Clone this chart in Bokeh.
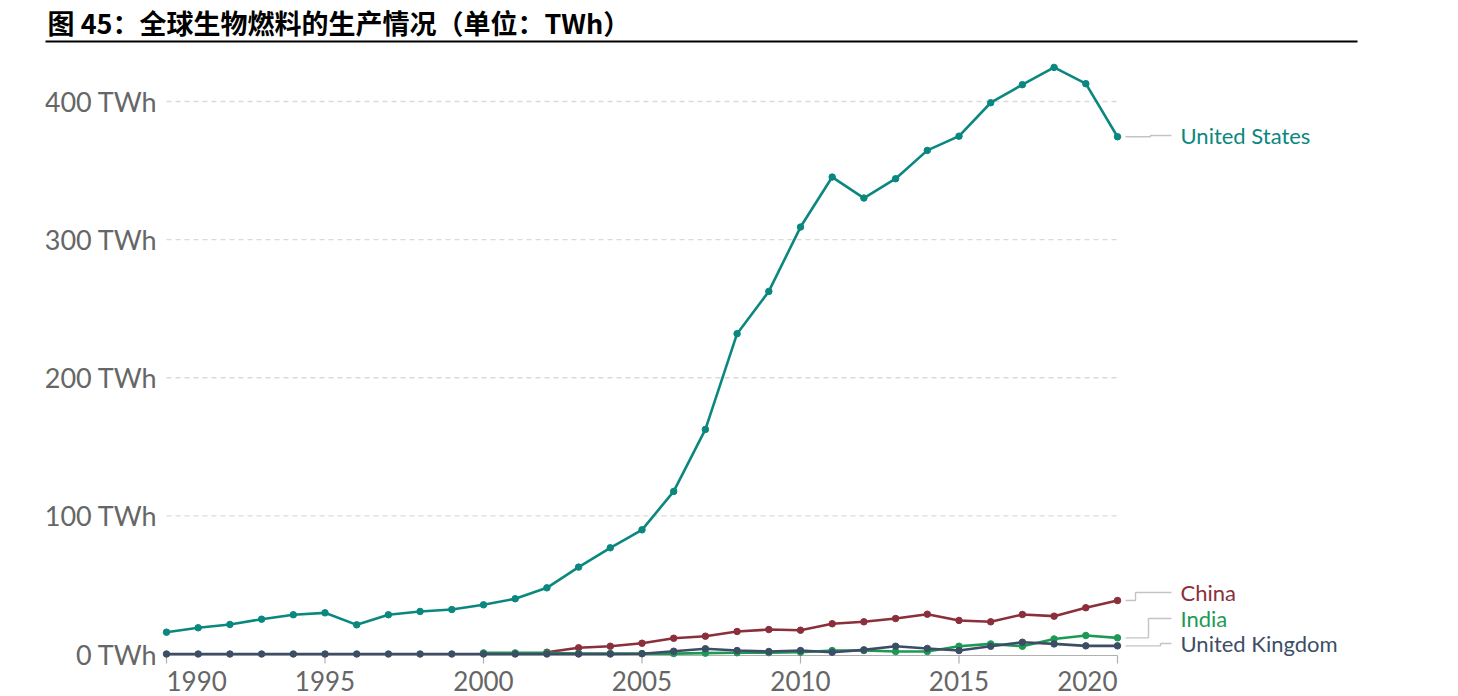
from bokeh.plotting import figure
from bokeh.models import ColumnDataSource, LinearAxis, FixedTicker, Range1d
from bokeh.core.properties import value
from bokeh.embed import file_html
from bokeh.resources import INLINE

# ---------------- data ----------------
title_text = "图 45：全球生物燃料的生产情况（单位：TWh）"

years = [1990, 1991, 1992, 1993, 1994, 1995, 1996, 1997, 1998, 1999,
         2000, 2001, 2002, 2003, 2004, 2005, 2006, 2007, 2008, 2009,
         2010, 2011, 2012, 2013, 2014, 2015, 2016, 2017, 2018, 2019, 2020]
us = [15.8, 19.0, 21.4, 25.2, 28.4, 29.8, 21.1, 28.4, 30.8, 32.2,
      35.6, 40.0, 47.9, 62.9, 76.9, 89.9, 117.7, 162.6, 231.9, 262.5,
      309.1, 345.3, 330.1, 344.1, 364.6, 374.9, 399.1, 412.2, 424.7, 412.9, 374.5]
uk = [0, 0, 0, 0, 0, 0, 0, 0, 0, 0,
      0, 0, 0, 0, 0, 0.2, 2.0, 3.8, 2.5, 1.8,
      2.5, 1.3, 3.0, 5.6, 4.0, 2.5, 5.6, 8.5, 7.3, 5.9, 5.9]
china_years = [2002, 2003, 2004, 2005, 2006, 2007, 2008, 2009, 2010, 2011,
               2012, 2013, 2014, 2015, 2016, 2017, 2018, 2019, 2020]
china = [1.3, 4.5, 5.6, 7.8, 11.4, 12.9, 16.3, 17.7, 17.2, 21.9,
         23.3, 25.7, 28.8, 24.3, 23.3, 28.6, 27.4, 33.5, 38.7]
india_years = [2000, 2001, 2002, 2003, 2004, 2005, 2006, 2007, 2008, 2009,
               2010, 2011, 2012, 2013, 2014, 2015, 2016, 2017, 2018, 2019, 2020]
india = [0.8, 0.8, 0.8, 0.4, 0.4, 0.3, 0.3, 0.6, 0.9, 1.0,
         1.3, 2.5, 2.5, 1.8, 1.8, 5.6, 7.3, 5.6, 10.9, 13.4, 11.7]

series_names = ["United States", "China", "India", "United Kingdom"]
y_tick_values = [0, 100, 200, 300, 400]
y_tick_labels = ["0 TWh", "100 TWh", "200 TWh", "300 TWh", "400 TWh"]
x_tick_years = [1990, 1995, 2000, 2005, 2010, 2015, 2020]
x_tick_labels = ["1990", "1995", "2000", "2005", "2010", "2015", "2020"]

# ---------------- style / layout ----------------
colors = {"United States": "#0a877f", "China": "#8a2f3b",
          "India": "#1c9a55", "United Kingdom": "#3c4e66"}
W, H = 1458, 696
frame_left, frame_right, frame_top, frame_bottom = 45, 1357, 41, 696
px_year = 31.7            # pixels per year
px_unit = 1.38125         # pixels per TWh
x0_px, y0_px = 166, 653.5  # pixel position of (first year, 0)

x_start = years[0] - (x0_px - frame_left) / px_year
x_end = years[0] + (frame_right - x0_px) / px_year
y_start = -(frame_bottom - y0_px) / px_unit
y_end = (y0_px - frame_top) / px_unit

p = figure(width=W, height=H, output_backend="svg", toolbar_location=None,
           x_range=Range1d(x_start, x_end), y_range=Range1d(y_start, y_end),
           x_axis_location=None, y_axis_location=None,
           min_border_left=frame_left, min_border_right=W - frame_right,
           min_border_top=frame_top, min_border_bottom=0)
p.grid.visible = False
p.outline_line_color = None
p.background_fill_color = "white"
p.border_fill_color = "white"

p.title.text = title_text
p.title.text_font = "Noto Sans CJK SC"
p.title.text_font_style = "bold"
p.title.text_font_size = "27px"
p.title.text_color = "black"
p.title.standoff = 0
p.title.offset = 2

rule = LinearAxis(ticker=FixedTicker(ticks=[]), axis_line_color="black",
                  axis_line_width=2, major_tick_out=0, major_tick_in=0,
                  minor_tick_out=0, minor_tick_in=0,
                  major_label_text_font_size="0px", major_label_standoff=0)
p.add_layout(rule, "above")

# gridlines (dashed) across the data span
grid_vals = y_tick_values[1:]
p.segment(x0=[years[0]] * len(grid_vals), x1=[years[-1]] * len(grid_vals),
          y0=grid_vals, y1=grid_vals, line_color="#dadada", line_width=1.3,
          line_dash="5 4")

# x axis line and ticks
axis_y = -1.5 / px_unit
tick_len = 8 / px_unit
p.segment(x0=[years[0]], x1=[years[-1]], y0=[axis_y], y1=[axis_y],
          line_color="#b0b0b0", line_width=1.2)
p.segment(x0=x_tick_years, x1=x_tick_years, y0=[axis_y] * len(x_tick_years),
          y1=[axis_y - tick_len] * len(x_tick_years), line_color="#b0b0b0",
          line_width=1.2)

# y tick labels
p.text(x=[years[0]] * len(y_tick_values), y=y_tick_values, text=y_tick_labels,
       x_offset=-9, text_align="right", text_baseline="middle",
       text_font=value("Lato"), text_font_size="27px", text_color="#666666")

# x tick labels
aligns = ["center"] * len(x_tick_years)
aligns[0] = "left"
aligns[-1] = "right"
xsrc = ColumnDataSource(dict(x=x_tick_years, y=[0] * len(x_tick_years),
                             text=x_tick_labels, align=aligns))
p.text(x="x", y="y", text="text", text_align="align", source=xsrc,
       y_offset=27, text_baseline="middle", text_font=value("Lato"),
       text_font_size="26px", text_color="#666666")

# series
series = [("United States", years, us), ("China", china_years, china),
          ("India", india_years, india), ("United Kingdom", years, uk)]
for name, xs, ys in series:
    c = colors[name]
    p.line(xs, ys, line_color=c, line_width=2.6)
    p.scatter(xs, ys, size=6.5, fill_color=c, line_color=c)

# end labels with connectors
label_px = {"United States": 135, "China": 592, "India": 618, "United Kingdom": 643}
elbow_px = {"United States": 1150, "China": 1135, "India": 1148, "United Kingdom": 1160}
conn_start = years[-1] + 8 / px_year
conn_end = years[-1] + 54 / px_year
label_x = years[-1] + 63 / px_year
cx, cy, lx, ly, lt, lc = [], [], [], [], [], []
for name, xs, ys in series:
    end_val = ys[-1]
    lab_val = (y0_px - label_px[name]) / px_unit
    ex = years[-1] + (elbow_px[name] - x0_px - (years[-1] - years[0]) * px_year) / px_year
    cx.append([conn_start, ex, ex, conn_end])
    cy.append([end_val, end_val, lab_val, lab_val])
    lx.append(label_x)
    ly.append(lab_val)
    lt.append(name)
    lc.append(colors[name])
p.multi_line(xs=cx, ys=cy, line_color="#c4c4c4", line_width=1.4)
lsrc = ColumnDataSource(dict(x=lx, y=ly, text=lt, color=lc))
p.text(x="x", y="y", text="text", text_color="color", source=lsrc,
       text_align="left", text_baseline="middle", text_font=value("Lato"),
       text_font_size="22px")

open("out.html", "w").write(file_html(p, INLINE))
